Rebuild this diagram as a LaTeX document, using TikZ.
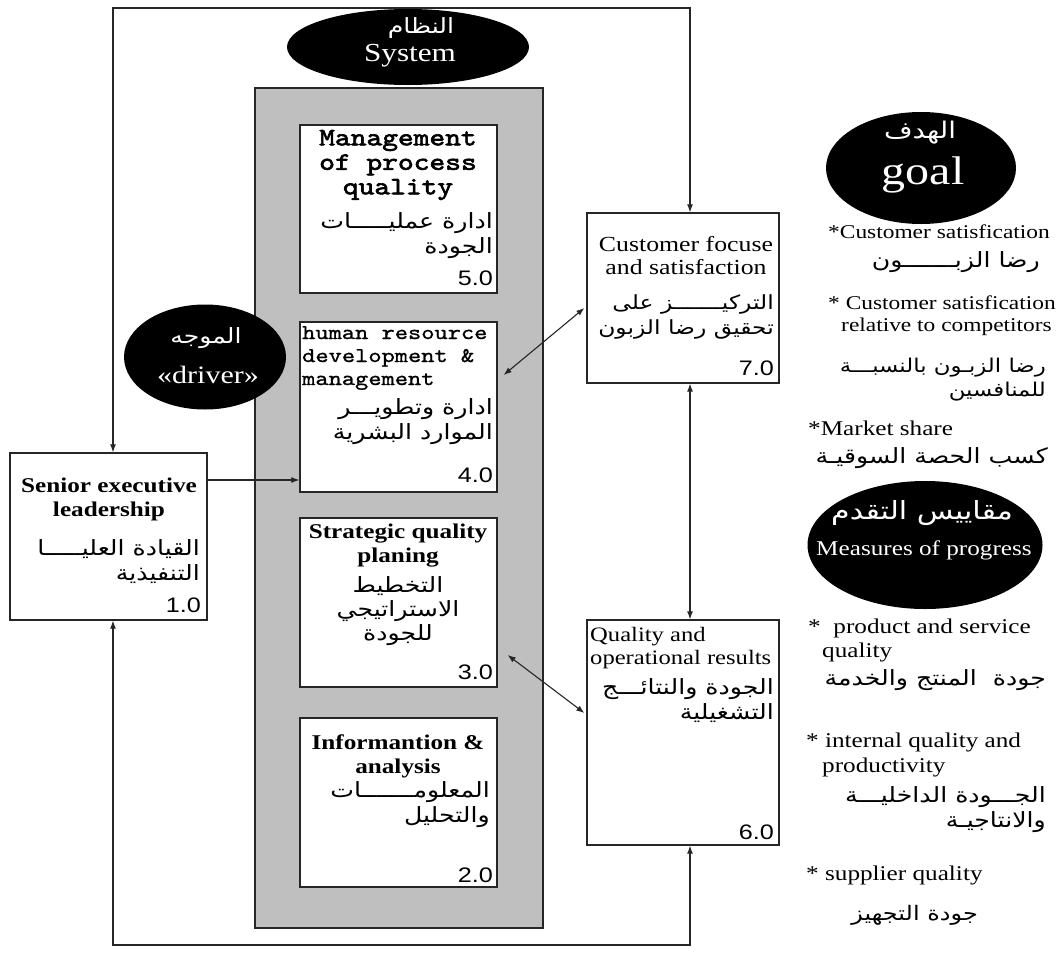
\documentclass[tikz,border=0pt]{standalone}
\usepackage{fontspec}
\setmainfont[FakeStretch=1.2]{Liberation Serif}
\newfontfamily\numfont[FakeStretch=1.2]{Liberation Sans}
\newfontfamily\typefont[FakeStretch=1.2,FakeBold=1]{lmmono10-regular.otf}
\newfontfamily\typebold[FakeStretch=1.2,FakeBold=2.5]{lmmono10-regular.otf}
\newfontfamily\arabicfont[Script=Arabic,FakeStretch=1.2]{DejaVu Sans}
\TeXXeTstate=1
\usetikzlibrary{shapes.geometric,arrows.meta,calc}
\newcommand\fsz[2]{\fontsize{#1}{#2}\selectfont}
\newcommand\AR[1]{\beginR#1\endR}

\tikzset{
  frame/.style={draw=black!85, line width=1.3pt},
  box/.style={frame, fill=white, inner sep=0pt, minimum width=197pt},
  oval/.style={ellipse, fill=black, inner sep=0pt},
  link/.style={draw=black!85, line width=1.1pt},
  tip/.style={-{Latex[length=8pt,width=6pt]}},
  bitip/.style={{Latex[length=8pt,width=6pt]}-{Latex[length=8pt,width=6pt]}},
  txt/.style={inner sep=0pt},
  bold/.style={txt, font=\bfseries\fsz{21}{24}, align=center},
  plain/.style={txt, font=\fsz{21.5}{23}},
  ar/.style={txt, font=\arabicfont\fsz{21}{25}},
  num/.style={txt, font=\numfont\fsz{21}{24}, anchor=east},
  wtxt/.style={txt, text=white}
}

\begin{document}
\begin{tikzpicture}[x=1pt,y=-1pt]
\useasboundingbox (0,0) rectangle (1057,964);
\fill[white] (0,0) rectangle (1057,964);

% corners of the outer feedback loop
\coordinate (tl) at (113,8);
\coordinate (tr) at (690,8);
\coordinate (bl) at (113,945);
\coordinate (br) at (690,945);
\coordinate (lv) at (0,480);

% the system panel
\node[frame, fill=black!25, minimum width=288pt, minimum height=840pt, inner sep=0pt] (panel) at (399,508) {};

% boxes of the system
\node[box, minimum height=168pt] (b5) at (398.5,209) {};
\node[box, minimum height=170pt] (b4) at (398.5,407) {};
\node[box, minimum height=169pt] (b3) at (398.5,602.5) {};
\node[box, minimum height=169pt] (b2) at (398.5,802.5) {};

% driver, goal and results boxes
\node[box, minimum height=167pt] (sen) at (108.5,536.5) {};
\node[box, minimum width=192pt, minimum height=170pt] (cust) at (683,298) {};
\node[box, minimum width=192pt, minimum height=225pt] (qual) at (683,732.5) {};

% outer loop connectors
\draw[link, bitip] (tl |- sen.north) -- (tl) -- (tr) -- (tr |- cust.north);
\draw[link, bitip] (bl |- sen.south) -- (bl) -- (br) -- (br |- qual.south);
\draw[link, tip] (sen.east |- lv) -- (b4.west |- lv);
\draw[link, bitip] ($(b4.east)+(6,-32)$) -- ($(cust.west)+(-2,10)$);
\draw[link, bitip] ($(b3.east)+(10,52.5)$) -- ($(qual.west)+(-2,-19.5)$);
\draw[link, bitip] (cust.south -| tr) -- (qual.north -| tr);

% ovals
\node[oval, minimum width=242pt, minimum height=76pt] (sys) at (408,47) {};
\node[wtxt, font=\arabicfont\fsz{21}{24}] (sysa) at (421,28) {\AR{النظام}};
\node[wtxt, font=\fsz{26}{28}] (syse) at (410,56) {System};

\node[oval, minimum width=162pt, minimum height=105pt] (drv) at (205,357) {};
\node[wtxt, font=\arabicfont\fsz{21}{24}] (drva) at (206,338) {\AR{الموجه}};
\node[wtxt, font=\fsz{25}{28}] (drve) at (208,375) {«driver»};

\node[oval, minimum width=190pt, minimum height=112pt] (goal) at (921,168) {};
\node[wtxt, font=\arabicfont\fsz{23}{28}] (goala) at (920,133) {\AR{الهدف}};
\node[wtxt, font=\fsz{40}{42}] (goale) at (923,175) {goal};

\node[oval, minimum width=235pt, minimum height=128pt] (meas) at (925,545) {};
\node[wtxt, font=\arabicfont\fsz{25}{28}] (measa) at (922,513) {\AR{مقاييس التقدم}};
\node[wtxt, font=\fsz{21}{24}] (meass) at (924,550) {Measures of progress};

% 5.0
\node[txt, font=\typebold\fsz{25}{24.5}, align=center] (e5) at (398,165) {Management\\of process\\quality};
\node[ar, align=right, anchor=east] (a5) at (493,236) {\AR{ادارة عمليـــــات}\\\AR{الجودة}};
\node[num] (n5) at (493,278) {5.0};

% 4.0
\node[txt, font=\typefont\fsz{21}{23}, align=left, anchor=west] (e4) at (302,358) {human resource\\development \&\\management};
\node[ar, align=right, anchor=east] (a4) at (493,422) {\AR{ادارة وتطويـــر}\\\AR{الموارد البشرية}};
\node[num] (n4) at (493,475) {4.0};

% 3.0
\node[bold] (e3) at (398,546) {Strategic quality\\planing};
\node[ar, align=center, font=\arabicfont\fsz{21}{24}] (a3) at (398,611) {\AR{التخطيط}\\\AR{الاستراتيجي}\\\AR{للجودة}};
\node[num] (n3) at (493,672) {3.0};

% 2.0
\node[bold] (e2) at (398,756) {Informantion \&\\analysis};
\node[ar, align=right, anchor=east] (a2) at (490,805) {\AR{المعلومـــــــات}\\\AR{والتحليل}};
\node[num] (n2) at (493,875) {2.0};

% 1.0
\node[bold] (es) at (109,499) {Senior executive\\leadership};
\node[ar, align=right, anchor=east] (as) at (200,562) {\AR{القيادة العليـــــا}\\\AR{التنفيذية}};
\node[num] (ns) at (201,605) {1.0};

% 7.0
\node[plain, align=center] (ec) at (686,256) {Customer focuse\\and satisfaction};
\node[ar, align=right, anchor=east, font=\arabicfont\fsz{19.5}{25}] (ac) at (774,317) {\AR{التركيـــــــز على}\\\AR{تحقيق رضا الزبون}};
\node[num] (nc) at (774,368) {7.0};

% 6.0
\node[txt, font=\fsz{20.5}{23}, align=left, anchor=west] (eq) at (590,648) {Quality and\\operational results};
\node[ar, align=right, anchor=east] (aq) at (774,701) {\AR{الجودة والنتائـــج}\\\AR{التشغيلية}};
\node[num] (nq) at (774,832) {6.0};

% goal list
\node[txt, anchor=west, font=\fsz{19.5}{22}] (g1) at (828,232) {*Customer satisfication};
\node[ar, anchor=east] (g1a) at (1040,262) {\AR{رضا الزبـــــــون}};
\node[txt, anchor=west, font=\fsz{19.5}{22}] (g2) at (828,303) {* Customer satisfication};
\node[txt, anchor=west, font=\fsz{19.5}{22}] (g2b) at (841,327) {relative to competitors};
\node[ar, align=right, anchor=east, font=\arabicfont\fsz{19}{24}] (g2a) at (1046,380) {\AR{رضا الزبـون بالنسبـــة}\\\AR{للمنافسين}};
\node[txt, anchor=west, font=\fsz{21}{24}] (g3) at (808,428) {*Market share};
\node[ar, anchor=east, font=\arabicfont\fsz{21}{24}] (g3a) at (1048,458) {\AR{كسب الحصة السوقيـة}};

% progress list
\node[txt, anchor=west, font=\fsz{21}{24}] (m1) at (808,628) {*\ \ product and service};
\node[txt, anchor=west, font=\fsz{21}{24}] (m1b) at (822,652) {quality};
\node[ar, anchor=east, font=\arabicfont\fsz{21}{24}] (m1a) at (1046,680) {\AR{جودة\ \ المنتج والخدمة}};
\node[txt, anchor=west, font=\fsz{21}{24}] (m2) at (806,742) {* internal quality and};
\node[txt, anchor=west, font=\fsz{21}{24}] (m2b) at (822,767) {productivity};
\node[ar, align=right, anchor=east, font=\arabicfont\fsz{21}{25}] (m2a) at (1046,810) {\AR{الجـــودة الداخليـــة}\\\AR{والانتاجيـة}};
\node[txt, anchor=west, font=\fsz{21}{24}] (m3) at (806,875) {* supplier quality};
\node[ar, anchor=east, font=\arabicfont\fsz{20}{24}] (m3a) at (978,915) {\AR{جودة التجهيز}};
\end{tikzpicture}
\end{document}
